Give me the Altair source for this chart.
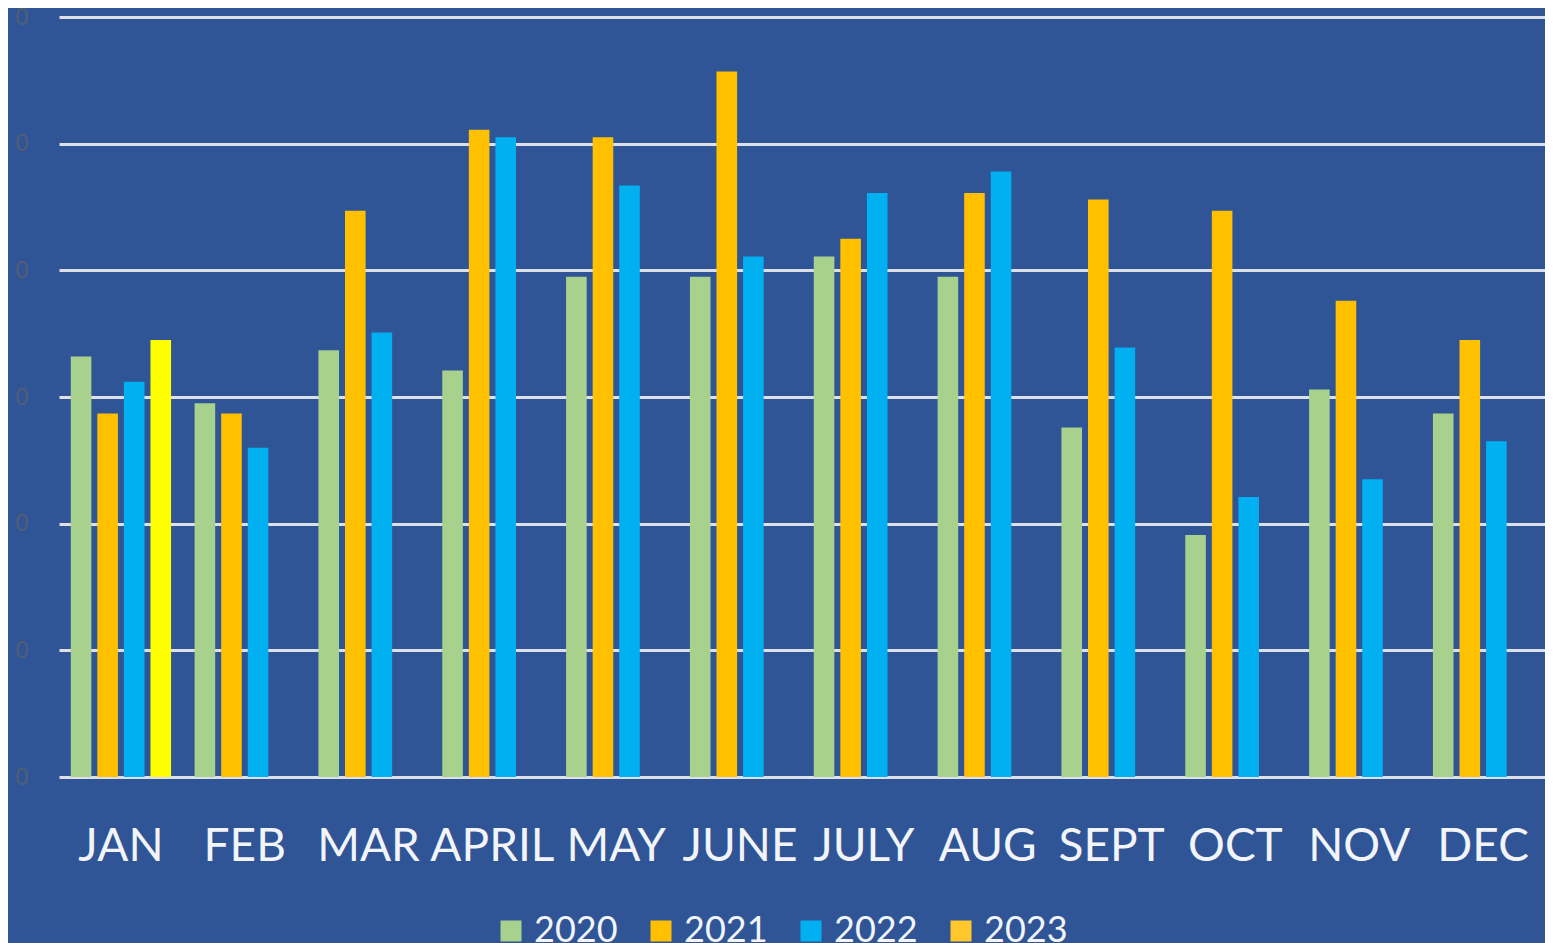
import altair as alt
import pandas as pd

months = ["JAN", "FEB", "MAR", "APRIL", "MAY", "JUNE", "JULY", "AUG", "SEPT", "OCT", "NOV", "DEC"]
years = ["2020", "2021", "2022", "2023"]
v2020 = [3.32, 2.95, 3.37, 3.21, 3.95, 3.95, 4.11, 3.95, 2.76, 1.91, 3.06, 2.87]
v2021 = [2.87, 2.87, 4.47, 5.11, 5.05, 5.57, 4.25, 4.61, 4.56, 4.47, 3.76, 3.45]
v2022 = [3.12, 2.60, 3.51, 5.05, 4.67, 4.11, 4.61, 4.78, 3.39, 2.21, 2.35, 2.65]
v2023 = [3.45, None, None, None, None, None, None, None, None, None, None, None]
y_ticks = [0, 1, 2, 3, 4, 5, 6]
y_tick_label = "0"
year_colors = ["#A9D18E", "#FFC000", "#00B0F0", "#FFC72C"]
highlight_2023 = "#FFFF00"

rows = []
for i, m in enumerate(months):
    for y, series in zip(years, [v2020, v2021, v2022, v2023]):
        rows.append({"month": m, "year": y, "value": series[i]})
df = pd.DataFrame(rows)

FONT = "Lato"

chart = alt.Chart(df).mark_bar().encode(
    x=alt.X("month:N", sort=months,
            scale=alt.Scale(paddingInner=0.19, paddingOuter=0.095),
            axis=alt.Axis(title=None, labelAngle=0, labelFont=FONT, labelFontSize=46,
                          labelColor="#F2F4F8", labelBaseline="alphabetic",
                          labelPadding=83, ticks=False, tickSize=0, domain=False,
                          grid=False)),
    xOffset=alt.XOffset("year:N", sort=years,
                        scale=alt.Scale(paddingInner=0.225, paddingOuter=0)),
    y=alt.Y("value:Q", scale=alt.Scale(domain=[0, 6], nice=False, zero=True),
            axis=alt.Axis(title=None, values=y_ticks, labelExpr=f"'{y_tick_label}'",
                          labelFont="Liberation Sans", labelFontSize=24, labelColor="#525E76",
                          labelPadding=31, ticks=False, tickSize=0, domain=False,
                          grid=True, gridColor="#DCE0E8", gridWidth=3)),
    color=alt.condition(
        alt.datum.year == "2023",
        alt.value(highlight_2023),
        alt.Color("year:N", sort=years,
                  scale=alt.Scale(domain=years, range=year_colors),
                  legend=alt.Legend(title=None, orient="none", direction="horizontal",
                                    legendX=434, legendY=896,
                                    symbolType="square", symbolSize=441,
                                    symbolStrokeWidth=0, symbolOpacity=1,
                                    labelFont=FONT, labelFontSize=36,
                                    labelColor="#F2F4F8", labelOffset=5,
                                    columnPadding=25, padding=0)),
    ),
).properties(
    width=1486,
    height=760,
    background="#2F5597",
    padding={"left": 51, "top": 9, "right": 0, "bottom": 166},
    autosize=alt.AutoSizeParams(type="none"),
).configure_view(stroke=None)

chart.save("out.html", embed_options={"renderer": "svg", "actions": False})
